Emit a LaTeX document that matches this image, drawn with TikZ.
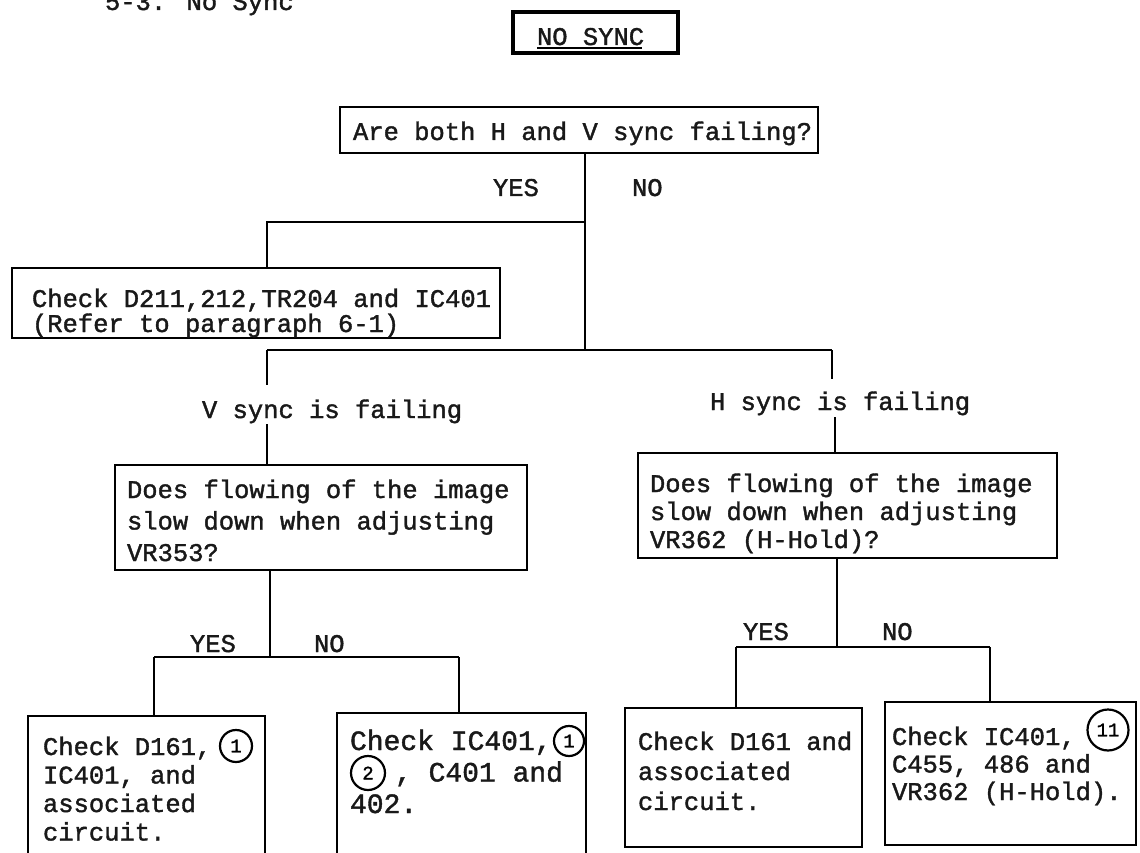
\documentclass[tikz,border=0pt]{standalone}
\usepackage{fontspec}
\newfontfamily\tw[FakeBold=1.5]{Liberation Mono}
\begin{document}
\begin{tikzpicture}[x=1pt,y=-1pt,
  txt/.style={font=\tw\fontsize{25.5}{28}\selectfont, inner sep=0pt, outer sep=0pt, anchor=base west, align=left, text=black!90},
  lsk/.style={font=\tw\fontsize{25.5}{#1}\selectfont},
  box/.style={draw, line width=2.8pt, inner sep=0pt, outer sep=0pt, anchor=north west},
  conn/.style={line width=2.6pt},
  num/.style={draw, circle, line width=2.2pt, inner sep=0pt, font=\tw\fontsize{19}{19}\selectfont}]
\clip (0,0) rectangle (1140,853);
\fill[white] (0,0) rectangle (1140,853);

% title
\node[txt] (title) at (105,10) {5-3. No Sync};

% NO SYNC
\node[box, line width=4.5pt, minimum width=165, minimum height=41] (ns) at (513,12) {};
\node[txt] (nstext) at (537,45) {NO SYNC};
\draw[line width=1.6pt] (nstext.base west) ++(0,3) -- ++(105,0);

% first question
\node[box, minimum width=478, minimum height=46] (q1) at (340,107) {};
\node[txt] (q1t) at (353,140) {Are both H and V sync failing?};
\node[txt] (yes1) at (493,196) {YES};
\node[txt] (no1) at (632,196) {NO};

\coordinate (j0) at (585,222);
\coordinate (j1) at (585,350);
\coordinate (b0) at (267,222);
\coordinate (bl) at (267,350);
\coordinate (br) at (832,350);

% check box (node base = last line baseline)
\node[box, minimum width=488, minimum height=70] (chk) at (12,268) {};
\node[txt, lsk=25] (chkt) at (32,332) {Check D211,212,TR204 and IC401\\(Refer to paragraph 6-1)};

\draw[conn] (j0 |- q1.south) -- (j1);
\draw[conn] (j0) -- (b0) -- (b0 |- chk.north);
\draw[conn] (bl) -- (br);

% V branch
\node[txt] (vlab) at (202,418) {V sync is failing};
\node[box, minimum width=412, minimum height=105] (vq) at (115,465) {};
\node[txt, lsk=31.5] (vqt) at (127,561) {Does flowing of the image\\slow down when adjusting\\VR353?};
\draw[conn] (bl) -- ([yshift=15pt]bl |- vlab.north);
\draw[conn] ([yshift=-1pt]bl |- vlab.south) -- (bl |- vq.north);

% H branch
\node[txt] (hlab) at (710,410) {H sync is failing};
\node[box, minimum width=419, minimum height=105] (hq) at (638,453) {};
\node[txt, lsk=28] (hqt) at (650,548) {Does flowing of the image\\slow down when adjusting\\VR362 (H-Hold)?};
\coordinate (hx) at (835,0);
\draw[conn] (br) -- ([yshift=13pt]br |- hlab.north);
\draw[conn] ([yshift=-2pt]hx |- hlab.south) -- (hx |- hq.north);

% V answers
\coordinate (vj) at (270,657);
\coordinate (va) at (154,657);
\coordinate (vb) at (459,657);
\node[txt] (yes2) at (190,652) {YES};
\node[txt] (no2) at (314,652) {NO};
\node[box, minimum width=237, minimum height=180] (ba) at (28,716) {};
\node[box, minimum width=249, minimum height=180] (bb) at (337,713) {};
\draw[conn] (vj |- vq.south) -- (vj);
\draw[conn] (va) -- (vb);
\draw[conn] (va) -- (va |- ba.north);
\draw[conn] (vb) -- (vb |- bb.north);
\node[txt, lsk=28.5] (bat) at (43,840.5) {Check D161,\\IC401, and\\associated\\circuit.};
\node[num, minimum size=32] (n1a) at (236,746) {1};
\node[txt, font=\tw\fontsize{28}{31.5}\selectfont] (bbt) at (350,813) {Check IC401,\\\hspace*{45pt}, C401 and\\402.};
\node[num, minimum size=30] (n1b) at (569,741) {1};
\node[num, minimum size=34] (n2b) at (368,773) {2};

% H answers
\coordinate (hj) at (837,647);
\coordinate (ha) at (736,647);
\coordinate (hb) at (990,647);
\node[txt] (yes3) at (743,640) {YES};
\node[txt] (no3) at (882,640) {NO};
\node[box, minimum width=237, minimum height=139] (bc) at (625,708) {};
\node[box, minimum width=251, minimum height=143] (bd) at (885,702) {};
\draw[conn] (hj |- hq.south) -- (hj);
\draw[conn] (ha) -- (hb);
\draw[conn] (ha) -- (ha |- bc.north);
\draw[conn] (hb) -- (hb |- bd.north);
\node[txt, lsk=30] (bct) at (638,810) {Check D161 and\\associated\\circuit.};
\node[txt, lsk=27.5] (bdt) at (892,800) {Check IC401,\\C455, 486 and\\VR362 (H-Hold).};
\node[num, minimum size=41] (n11) at (1108,730) {11};
\end{tikzpicture}
\end{document}
